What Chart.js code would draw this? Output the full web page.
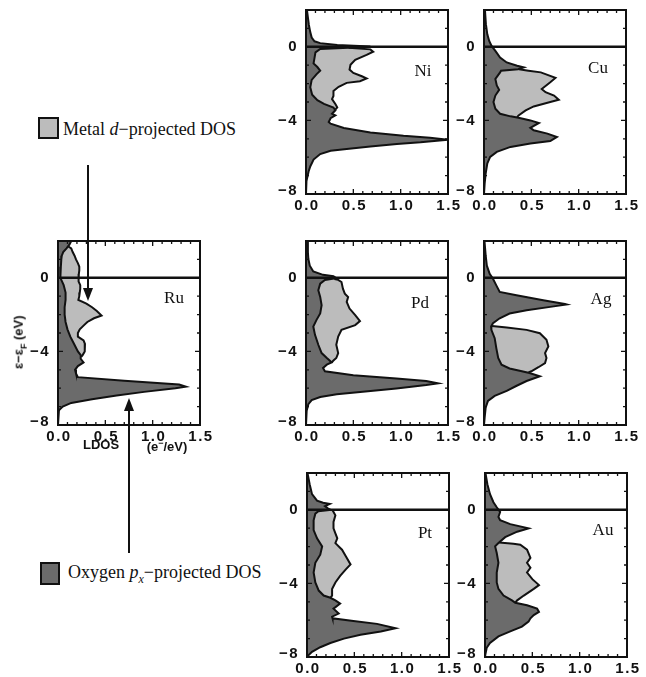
<!DOCTYPE html>
<html><head><meta charset="utf-8">
<script src="https://cdn.jsdelivr.net/npm/chart.js@4.4.1/dist/chart.umd.min.js"></script>
<style>
body{margin:0;background:#fff;}
#wrap{position:relative;width:646px;height:677px;overflow:hidden;background:#fff;}
canvas{position:absolute;}
.lbl{position:absolute;font-family:"Liberation Serif","Times New Roman",serif;font-size:17px;color:#111;transform:translate(-50%,-50%);white-space:nowrap;line-height:17px;}
.leg{position:absolute;font-family:"Liberation Serif","Times New Roman",serif;font-size:18px;color:#111;white-space:nowrap;line-height:18px;}
.box{position:absolute;box-sizing:border-box;border:2px solid #111;}
.ax{position:absolute;font-family:"Liberation Sans",Arial,sans-serif;font-weight:bold;font-size:13px;color:#111;white-space:nowrap;line-height:14px;}
svg{position:absolute;left:0;top:0;}
</style></head>
<body><div id="wrap"></div>
<script>
// ---------- data (LDOS in e-/eV, energies in eV) ----------
const xTickValues = [0, 0.5, 1.0, 1.5];
const xTickLabels = ['0.0', '0.5', '1.0', '1.5'];
const yTickValues = [-8, -4, 0];
const yTickLabels = ['\u22128', '\u22124', '0'];

// Ru
const ruDarkE = [2.0, 1.8, 1.6, 1.4, 1.2, 1.0, 0.6, 0.2, 0, -0.4, -0.8, -1.2, -1.6, -2.0, -2.4, -2.8, -3.2, -3.6, -4.0, -4.2, -4.4, -4.6, -4.8, -5.0, -5.2, -5.4, -5.6, -5.8, -5.92, -6.0, -6.2, -6.4, -6.6, -6.8, -7.0, -7.2, -7.4, -8.0];
const ruDarkV = [0.14, 0.12, 0.09, 0.055, 0.04, 0.035, 0.03, 0.025, 0.025, 0.06, 0.08, 0.08, 0.07, 0.07, 0.08, 0.10, 0.13, 0.17, 0.21, 0.24, 0.24, 0.27, 0.21, 0.18, 0.19, 0.21, 0.70, 1.28, 1.35, 1.24, 0.91, 0.62, 0.36, 0.14, 0.05, 0.01, 0.0, 0.0];
const ruLightE = [1.7, 1.6, 1.4, 1.2, 1.0, 0.8, 0.6, 0.4, 0.2, 0, -0.2, -0.4, -0.6, -0.8, -1.0, -1.2, -1.4, -1.6, -1.8, -2.05, -2.2, -2.4, -2.6, -2.8, -3.0, -3.2, -3.4, -3.6, -3.8, -4.0, -4.2, -4.3];
const ruLightV = [0.11, 0.14, 0.155, 0.175, 0.19, 0.21, 0.225, 0.225, 0.22, 0.215, 0.22, 0.235, 0.235, 0.23, 0.225, 0.215, 0.30, 0.36, 0.41, 0.46, 0.38, 0.31, 0.27, 0.23, 0.21, 0.21, 0.27, 0.285, 0.285, 0.28, 0.26, 0.245];

// Ni
const niDarkE = [2.0, 1.6, 1.2, 0.8, 0.5, 0.3, 0.2, 0.1, 0.02, -0.05, -0.12, -0.3, -0.6, -0.9, -1.1, -1.3, -1.5, -1.8, -2.2, -2.6, -2.9, -3.1, -3.3, -3.45, -3.64, -3.73, -3.88, -4.09, -4.18, -4.41, -4.66, -4.84, -4.94, -5.05, -5.19, -5.28, -5.42, -5.55, -5.65, -5.83, -6.13, -6.49, -6.76, -7.3, -7.8, -8.0];
const niDarkV = [0.01, 0.02, 0.03, 0.045, 0.06, 0.09, 0.15, 0.33, 0.68, 0.45, 0.15, 0.10, 0.09, 0.08, 0.12, 0.15, 0.11, 0.06, 0.045, 0.065, 0.12, 0.19, 0.29, 0.31, 0.275, 0.31, 0.26, 0.24, 0.26, 0.40, 0.68, 1.03, 1.31, 1.5, 1.21, 0.96, 0.68, 0.43, 0.26, 0.15, 0.08, 0.046, 0.028, 0.005, 0.0, 0.0];
const niLightE = [-0.05, -0.14, -0.27, -0.44, -0.71, -0.98, -1.24, -1.42, -1.6, -1.72, -1.87, -1.96, -2.17, -2.4, -2.67, -2.84, -3.11, -3.29, -3.41];
const niLightV = [0.45, 0.68, 0.71, 0.64, 0.52, 0.47, 0.46, 0.50, 0.59, 0.64, 0.57, 0.43, 0.345, 0.29, 0.29, 0.275, 0.31, 0.33, 0.31];

// Cu
const cuDarkE = [2.0, 1.23, 0.68, 0.32, 0.05, -0.22, -0.58, -0.85, -1.03, -1.12, -1.22, -1.3, -1.39, -1.75, -2.1, -2.34, -2.65, -3.0, -3.37, -3.64, -3.78, -3.86, -4.0, -4.14, -4.4, -4.54, -4.72, -4.9, -5.12, -5.26, -5.44, -5.71, -5.98, -6.34, -6.88, -7.42, -8.0];
const cuDarkV = [0.01, 0.02, 0.035, 0.055, 0.08, 0.12, 0.17, 0.24, 0.35, 0.42, 0.36, 0.18, 0.17, 0.12, 0.135, 0.16, 0.12, 0.10, 0.12, 0.17, 0.28, 0.365, 0.49, 0.58, 0.49, 0.525, 0.67, 0.77, 0.70, 0.49, 0.28, 0.135, 0.065, 0.035, 0.018, 0.007, 0.0];
const cuLightE = [-1.22, -1.3, -1.39, -1.69, -1.93, -2.29, -2.47, -2.65, -2.88, -3.0, -3.24, -3.46, -3.73, -3.82];
const cuLightV = [0.37, 0.47, 0.60, 0.755, 0.70, 0.61, 0.65, 0.74, 0.79, 0.70, 0.525, 0.44, 0.365, 0.35];

// Pd
const pdDarkE = [2.0, 1.38, 1.02, 0.66, 0.34, 0.16, 0.09, -0.02, -0.12, -0.32, -0.68, -1.04, -1.49, -1.94, -2.3, -2.65, -3.1, -3.64, -4.09, -4.36, -4.5, -4.6, -4.72, -4.9, -5.08, -5.29, -5.47, -5.61, -5.74, -5.83, -6.01, -6.19, -6.33, -6.48, -6.65, -6.87, -7.23, -8.0];
const pdDarkV = [0.013, 0.02, 0.025, 0.04, 0.077, 0.18, 0.29, 0.32, 0.20, 0.15, 0.13, 0.15, 0.165, 0.15, 0.11, 0.077, 0.095, 0.13, 0.165, 0.22, 0.25, 0.27, 0.22, 0.18, 0.20, 0.50, 0.955, 1.27, 1.395, 1.27, 0.955, 0.60, 0.325, 0.15, 0.06, 0.025, 0.007, 0.0];
const pdLightE = [-0.06, -0.11, -0.23, -0.59, -0.86, -1.04, -1.31, -1.67, -2.03, -2.35, -2.57, -2.83, -3.19, -3.64, -4.09, -4.36, -4.5, -4.6];
const pdLightV = [0.30, 0.34, 0.375, 0.39, 0.41, 0.445, 0.43, 0.46, 0.52, 0.57, 0.52, 0.375, 0.34, 0.32, 0.34, 0.32, 0.29, 0.27];

// Ag
const agDarkE = [2.0, 1.2, 0.66, 0.22, -0.05, -0.41, -0.77, -0.95, -1.22, -1.42, -1.45, -1.58, -1.76, -1.94, -2.2, -2.47, -2.65, -2.83, -3.28, -3.82, -4.36, -4.72, -4.93, -5.08, -5.17, -5.35, -5.61, -5.88, -6.15, -6.42, -6.69, -7.05, -7.59, -8.0];
const agDarkV = [0.005, 0.018, 0.03, 0.06, 0.095, 0.13, 0.166, 0.343, 0.626, 0.855, 0.875, 0.70, 0.45, 0.27, 0.166, 0.095, 0.075, 0.078, 0.113, 0.13, 0.15, 0.185, 0.27, 0.40, 0.48, 0.59, 0.45, 0.34, 0.24, 0.113, 0.042, 0.018, 0.007, 0.0];
const agLightE = [-2.62, -2.7, -2.83, -3.01, -3.37, -3.73, -4.09, -4.36, -4.63, -4.86, -5.08, -5.14];
const agLightV = [0.085, 0.24, 0.45, 0.59, 0.66, 0.68, 0.645, 0.66, 0.645, 0.575, 0.50, 0.47];

// Pt
const ptDarkE = [2.0, 1.39, 0.85, 0.5, 0.38, 0.32, 0.2, 0.08, 0, -0.08, -0.21, -0.57, -1.1, -1.55, -1.99, -2.44, -2.88, -3.41, -3.95, -4.39, -4.66, -4.78, -4.92, -5.1, -5.37, -5.64, -5.81, -5.9, -6.04, -6.2, -6.44, -6.61, -6.79, -7.0, -7.24, -7.47, -7.72, -7.95, -8.0];
const ptDarkV = [0.005, 0.028, 0.053, 0.106, 0.17, 0.24, 0.19, 0.22, 0.25, 0.12, 0.088, 0.07, 0.07, 0.106, 0.16, 0.14, 0.088, 0.07, 0.088, 0.124, 0.176, 0.247, 0.30, 0.35, 0.28, 0.335, 0.265, 0.27, 0.49, 0.74, 0.935, 0.78, 0.565, 0.39, 0.247, 0.14, 0.053, 0.007, 0.0];
const ptLightE = [-0.02, -0.3, -0.66, -1.01, -1.28, -1.55, -1.81, -2.17, -2.52, -2.97, -3.24, -3.59, -3.95, -4.3, -4.66, -4.78];
const ptLightV = [0.27, 0.30, 0.28, 0.28, 0.30, 0.32, 0.30, 0.37, 0.41, 0.46, 0.41, 0.35, 0.30, 0.265, 0.265, 0.247];

// Au
const auDarkE = [2.0, 1.39, 0.85, 0.41, 0.14, -0.12, -0.39, -0.57, -0.78, -1.01, -1.19, -1.49, -1.81, -1.99, -2.35, -2.88, -3.41, -3.95, -4.3, -4.66, -4.92, -5.05, -5.19, -5.37, -5.55, -5.72, -5.9, -6.08, -6.35, -6.61, -6.88, -7.24, -7.5, -7.86, -8.0];
const auDarkV = [0.005, 0.025, 0.053, 0.089, 0.124, 0.16, 0.142, 0.16, 0.267, 0.46, 0.34, 0.213, 0.142, 0.107, 0.124, 0.142, 0.124, 0.124, 0.142, 0.196, 0.285, 0.32, 0.444, 0.55, 0.57, 0.515, 0.48, 0.46, 0.39, 0.267, 0.142, 0.053, 0.018, 0.004, 0.0];
const auLightE = [-1.78, -1.85, -1.9, -2.17, -2.61, -2.88, -3.15, -3.41, -3.77, -4.09, -4.3, -4.66, -4.92, -5.05];
const auLightV = [0.15, 0.30, 0.373, 0.444, 0.48, 0.444, 0.48, 0.444, 0.5, 0.57, 0.515, 0.41, 0.34, 0.32];

// ---------- styling ----------
const DARK = '#6b6b6b';
const LIGHT = '#bcbcbc';
const INK = '#111';
const TICK_FONT = 'bold 15px "Liberation Sans", Arial, sans-serif';

const wrap = document.getElementById('wrap');

const frameTicks = {
  id: 'frameTicks',
  afterDraw(chart) {
    const {ctx, chartArea: a, scales: {x, y}} = chart;
    ctx.save();
    ctx.strokeStyle = INK;
    ctx.lineWidth = 1.3;
    ctx.beginPath();
    for (let i = 0; i <= 15; i++) {
      const px = x.getPixelForValue(i / 10);
      const len = (i % 5 === 0) ? 5 : 3;
      ctx.moveTo(px, a.bottom); ctx.lineTo(px, a.bottom - len);
      ctx.moveTo(px, a.top); ctx.lineTo(px, a.top + len);
    }
    for (let v = -8; v <= 2; v++) {
      const py = y.getPixelForValue(v);
      const len = (v % 4 === 0) ? 5 : 3;
      ctx.moveTo(a.left, py); ctx.lineTo(a.left + len, py);
      ctx.moveTo(a.right, py); ctx.lineTo(a.right - len, py);
    }
    ctx.stroke();
    ctx.lineWidth = 2;
    ctx.strokeRect(a.left, a.top, a.right - a.left, a.bottom - a.top);
    // tick labels
    ctx.fillStyle = INK;
    ctx.font = TICK_FONT;
    try { ctx.letterSpacing = '1.5px'; } catch (e) {}
    ctx.textAlign = 'center'; ctx.textBaseline = 'top';
    xTickValues.forEach((v, i) => ctx.fillText(xTickLabels[i], x.getPixelForValue(v) + 1, a.bottom + 4));
    ctx.textAlign = 'right'; ctx.textBaseline = 'middle';
    yTickValues.forEach((v, i) => ctx.fillText(yTickLabels[i], a.left - 8, y.getPixelForValue(v) - (v === -8 ? 3 : 0)));
    ctx.restore();
  }
};

function pts(E, V) { return E.map((e, i) => ({x: V[i], y: e})); }

function panel(L, T, dE, dV, lE, lV) {
  const W = 142, H = 184, PL = 45, PT = 10, PR = 16, PB = 30;
  const cv = document.createElement('canvas');
  cv.width = W + PL + PR; cv.height = H + PT + PB;
  cv.style.left = (L - PL) + 'px'; cv.style.top = (T - PT) + 'px';
  cv.style.width = cv.width + 'px'; cv.style.height = cv.height + 'px';
  wrap.appendChild(cv);
  new Chart(cv, {
    type: 'line',
    data: {
      datasets: [
        {data: pts(dE, dV), order: 1, fill: 'origin', backgroundColor: DARK, borderColor: INK, borderWidth: 2, pointRadius: 0, tension: 0},
        {data: pts(lE, lV), order: 2, fill: 'origin', backgroundColor: LIGHT, borderColor: INK, borderWidth: 2, pointRadius: 0, tension: 0},
        {data: [{x: 0, y: 0}, {x: 1.5, y: 0}], order: 0, fill: false, borderColor: INK, borderWidth: 2.5, pointRadius: 0}
      ]
    },
    options: {
      indexAxis: 'y',
      responsive: false, maintainAspectRatio: false, animation: false, devicePixelRatio: 1, events: [],
      layout: {padding: {left: 0, top: PT, right: PR, bottom: 0}},
      plugins: {legend: {display: false}, tooltip: {enabled: false}},
      scales: {
        x: {
          type: 'linear', position: 'bottom', min: 0, max: 1.5,
          grid: {display: false, drawTicks: false}, border: {display: false},
          ticks: {display: false},
          afterFit: s => { s.height = PB; }
        },
        y: {
          type: 'linear', position: 'left', min: -8, max: 2,
          grid: {display: false, drawTicks: false}, border: {display: false},
          ticks: {display: false},
          afterFit: s => { s.width = PL; }
        }
      }
    },
    plugins: [frameTicks]
  });
}

panel(306, 10, niDarkE, niDarkV, niLightE, niLightV);
panel(484, 10, cuDarkE, cuDarkV, cuLightE, cuLightV);
panel(58, 241, ruDarkE, ruDarkV, ruLightE, ruLightV);
panel(306, 241, pdDarkE, pdDarkV, pdLightE, pdLightV);
panel(484, 241, agDarkE, agDarkV, agLightE, agLightV);
panel(307, 473, ptDarkE, ptDarkV, ptLightE, ptLightV);
panel(485, 473, auDarkE, auDarkV, auLightE, auLightV);

// ---------- texts ----------
function addHTML(html) { wrap.insertAdjacentHTML('beforeend', html); }
const names = [['Ni', 423, 70], ['Cu', 598, 67], ['Ru', 174, 297], ['Pd', 420, 302], ['Ag', 601, 298], ['Pt', 425, 532], ['Au', 603, 529]];
names.forEach(([t, x, y]) => addHTML(`<div class="lbl" style="left:${x}px;top:${y}px">${t}</div>`));

addHTML(`<div class="box" style="left:38px;top:117px;width:21px;height:22px;background:${LIGHT}"></div>`);
addHTML(`<div class="leg" style="left:63px;top:120px">Metal <i>d</i>\u2212projected DOS</div>`);
addHTML(`<div class="box" style="left:40px;top:562px;width:20px;height:23px;background:${DARK}"></div>`);
addHTML(`<div class="leg" style="left:68px;top:563px">Oxygen <i>p<sub style="font-size:12px">x</sub></i>\u2212projected DOS</div>`);

addHTML(`<div class="ax" style="left:-39px;top:333px;width:120px;text-align:center;transform:rotate(-90deg)">\u03b5\u2212\u03b5<sub style="font-size:9px">F</sub> (eV)</div>`);
addHTML(`<div class="ax" style="left:101px;top:445px;transform:translate(-50%,-50%)">LDOS</div>`);
addHTML(`<div class="ax" style="left:167px;top:445px;transform:translate(-50%,-50%)">(e<sup style="font-size:9px">\u2212</sup>/eV)</div>`);

addHTML(`<svg width="646" height="677">
<line x1="88" y1="165" x2="88" y2="290" stroke="${INK}" stroke-width="2"/>
<polygon points="83,288 93,288 88,301" fill="${INK}"/>
<line x1="129" y1="410" x2="129" y2="553" stroke="${INK}" stroke-width="2"/>
<polygon points="124,411 134,411 129,398" fill="${INK}"/>
</svg>`);
</script>
</body></html>
